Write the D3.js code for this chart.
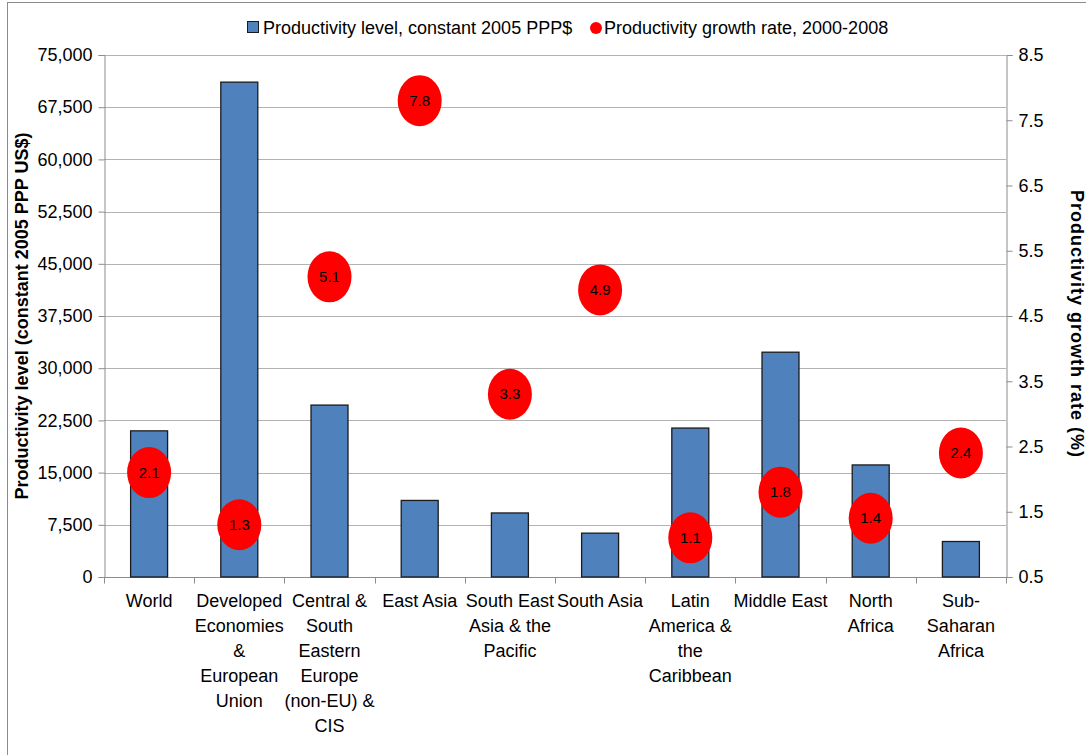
<!DOCTYPE html>
<html>
<head>
<meta charset="utf-8">
<script src="https://cdn.jsdelivr.net/npm/d3@7/dist/d3.min.js"></script>
<style>
  html, body { margin: 0; padding: 0; background: #fff; }
  svg { display: block; font-family: "Liberation Sans", Arial, sans-serif; }
</style>
</head>
<body>
<svg id="chart" width="1086" height="755"></svg>
<script>
// Regions, each label broken into the lines shown under the axis
const categories = [
  "World",
  "Developed\nEconomies\n&\nEuropean\nUnion",
  "Central &\nSouth\nEastern\nEurope\n(non-EU) &\nCIS",
  "East Asia",
  "South East\nAsia & the\nPacific",
  "South Asia",
  "Latin\nAmerica &\nthe\nCaribbean",
  "Middle East",
  "North\nAfrica",
  "Sub-\nSaharan\nAfrica"
];
// Productivity level, constant 2005 PPP$
const productivityLevel = [21000, 71100, 24700, 11000, 9200, 6300, 21400, 32300, 16100, 5100];
// Productivity growth rate, 2000-2008 (%)
const growthRate = [2.1, 1.3, 5.1, 7.8, 3.3, 4.9, 1.1, 1.8, 1.4, 2.4];

const leftTicks = [0, 7500, 15000, 22500, 30000, 37500, 45000, 52500, 60000, 67500, 75000];
const rightTicks = [0.5, 1.5, 2.5, 3.5, 4.5, 5.5, 6.5, 7.5, 8.5];

const levelLabel = "Productivity level, constant 2005 PPP$";
const growthLabel = "Productivity growth rate, 2000-2008";
const leftTitle = "Productivity level (constant 2005 PPP US$)";
const rightTitle = "Productivity growth rate (%)";

const svg = d3.select("#chart");
const plot = { left: 104, right: 1006, top: 55, bottom: 577 };

// outer frame
svg.append("rect")
  .attr("x", 7.5).attr("y", 2.5).attr("width", 1100).attr("height", 770)
  .attr("fill", "none").attr("stroke", "#8c8c8c").attr("stroke-width", 1);

const x = d3.scaleBand().domain(d3.range(categories.length))
  .range([plot.left, plot.right]).paddingInner(0).paddingOuter(0);
const yL = d3.scaleLinear().domain([0, 75000]).range([plot.bottom, plot.top]);
const yR = d3.scaleLinear().domain([0.5, 8.5]).range([plot.bottom, plot.top]);

// horizontal gridlines
svg.append("g").selectAll("line").data(leftTicks).join("line")
  .attr("x1", plot.left).attr("x2", plot.right)
  .attr("y1", d => Math.round(yL(d)) + 0.5).attr("y2", d => Math.round(yL(d)) + 0.5)
  .attr("stroke", "#b3b3b3").attr("stroke-width", 1);

// left axis
const axL = svg.append("g").attr("transform", `translate(${plot.left + 0.5},0)`)
  .call(d3.axisLeft(yL).tickValues(leftTicks).tickFormat(d3.format(",")).tickSize(6).tickPadding(6));
// right axis
const axR = svg.append("g").attr("transform", `translate(${plot.right + 0.5},0)`)
  .call(d3.axisRight(yR).tickValues(rightTicks).tickFormat(d3.format(".1f")).tickSize(6).tickPadding(6));
// bottom axis, ticks on category boundaries
const boundaries = d3.range(categories.length + 1).map(i => plot.left + i * x.bandwidth());
const axB = svg.append("g").attr("transform", `translate(0,${plot.bottom + 0.5})`);
axB.append("line").attr("x1", plot.left).attr("x2", plot.right + 6).attr("stroke", "#8c8c8c");
axB.selectAll("line.tk").data(boundaries).join("line").attr("class", "tk")
  .attr("x1", d => Math.round(d) + 0.5).attr("x2", d => Math.round(d) + 0.5)
  .attr("y1", 0).attr("y2", 6).attr("stroke", "#8c8c8c");

[axL, axR].forEach(a => {
  a.select(".domain").attr("stroke", "#8c8c8c");
  a.selectAll(".tick line").attr("stroke", "#8c8c8c");
  a.selectAll(".tick text").attr("font-size", 18).attr("fill", "#000")
    .attr("font-family", "'Liberation Sans', Arial, sans-serif");
});

// category labels
const catG = svg.append("g");
categories.forEach((c, i) => {
  const t = catG.append("text")
    .attr("x", x(i) + x.bandwidth() / 2).attr("y", 607)
    .attr("text-anchor", "middle").attr("font-size", 18).attr("fill", "#000");
  c.split("\n").forEach((line, j) => {
    t.append("tspan").attr("x", x(i) + x.bandwidth() / 2).attr("dy", j === 0 ? 0 : 25).text(line);
  });
});

// bars
const barW = x.bandwidth() * 0.41;
svg.append("g").selectAll("rect").data(productivityLevel).join("rect")
  .attr("x", (d, i) => x(i) + (x.bandwidth() - barW) / 2)
  .attr("y", d => yL(d))
  .attr("width", barW)
  .attr("height", d => plot.bottom - yL(d))
  .attr("fill", "#4f81bd").attr("stroke", "#1b1b1b").attr("stroke-width", 1.3);

// growth-rate markers
const mk = svg.append("g").selectAll("g").data(growthRate).join("g")
  .attr("transform", (d, i) => `translate(${x(i) + x.bandwidth() / 2},${yR(d)})`);
mk.append("ellipse").attr("rx", 22).attr("ry", 25.5).attr("fill", "#ff0000");
mk.append("text").attr("text-anchor", "middle").attr("dy", 5)
  .attr("font-size", 15).attr("fill", "#000").text(d => d.toFixed(1));

// axis titles
svg.append("text")
  .attr("transform", `translate(28,${(plot.top + plot.bottom) / 2}) rotate(-90)`)
  .attr("text-anchor", "middle").attr("font-size", 18).attr("font-weight", "bold")
  .text(leftTitle);
svg.append("text")
  .attr("transform", `translate(1071,324) rotate(90)`)
  .attr("text-anchor", "middle").attr("font-size", 18).attr("font-weight", "bold")
  .attr("letter-spacing", 1)
  .text(rightTitle);

// legend
const lg = svg.append("g");
lg.append("rect").attr("x", 247.5).attr("y", 21.5).attr("width", 11).attr("height", 11)
  .attr("fill", "#4f81bd").attr("stroke", "#1b1b1b").attr("stroke-width", 1);
lg.append("text").attr("x", 263).attr("y", 34).attr("font-size", 18).text(levelLabel);
lg.append("circle").attr("cx", 596).attr("cy", 28).attr("r", 6).attr("fill", "#ff0000");
lg.append("text").attr("x", 604).attr("y", 34).attr("font-size", 18).text(growthLabel);
</script>
</body>
</html>
